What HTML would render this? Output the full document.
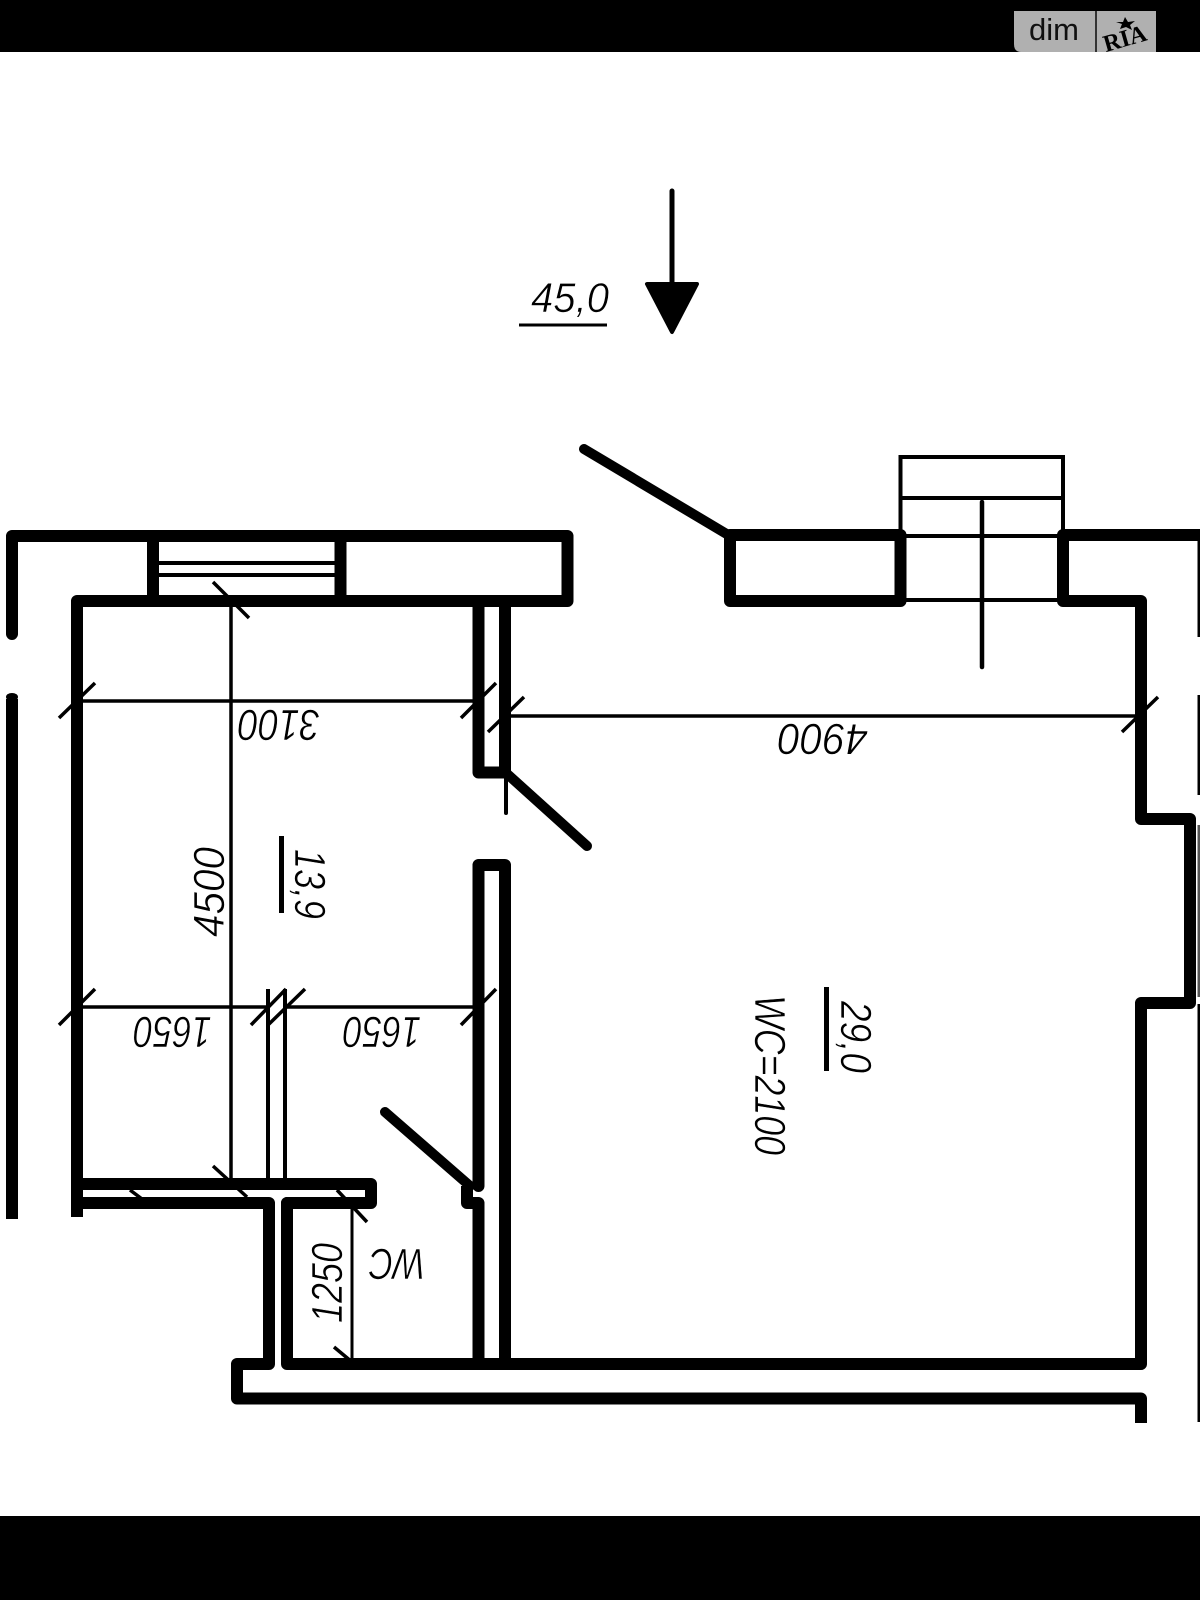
<!DOCTYPE html>
<html><head><meta charset="utf-8"><style>
html,body{margin:0;padding:0;background:#fff}
svg{display:block}
.w{stroke:#000;stroke-width:12;fill:none;stroke-linecap:round;stroke-linejoin:round}
.t{stroke:#000;stroke-width:4;fill:none;stroke-linecap:round}
text.l{font-family:"Liberation Sans",sans-serif;font-style:italic;text-anchor:middle;font-size:44px;fill:#000;stroke:#fff;stroke-width:.6px}
</style></head><body>
<svg width="1200" height="1600" viewBox="0 0 1200 1600" xmlns="http://www.w3.org/2000/svg">
<rect width="1200" height="1600" fill="#fff"/>
<rect width="1200" height="52" fill="#000"/>
<rect y="1516" width="1200" height="84" fill="#000"/>
<path d="M1014 11H1156V52H1021Q1014 52 1014 44Z" fill="#b0b0b0"/>
<rect x="1095" y="11" width="2" height="41" fill="#333"/>
<text x="1029" y="40" font-family="Liberation Sans,sans-serif" font-size="31" fill="#111">dim</text>
<text transform="translate(1127,46) rotate(-16)" text-anchor="middle" font-family="Liberation Serif,serif" font-weight="bold" font-size="24" fill="#000">RIA</text>
<polygon points="1125,17 1128,22 1135,21 1130,25 1132,30 1126,27 1120,29 1122,24 1116,22 1123,22" fill="#000"/>

<!-- elevation marker -->
<line class="t" x1="672" y1="191" x2="672" y2="285" style="stroke-width:5"/>
<path d="M647 284H697L672 332Z" fill="#000" stroke="#000" stroke-width="4" stroke-linejoin="round"/>
<line x1="519" y1="325" x2="607" y2="325" stroke="#000" stroke-width="3"/>
<text class="l" transform="translate(570,312)" textLength="78" lengthAdjust="spacingAndGlyphs" style="font-size:42px">45,0</text>

<!-- outer / upper left walls -->
<path class="w" d="M12 634V536H567.500V601H77V1211"/>
<line class="w" x1="12" y1="699" x2="12" y2="1219" style="stroke-linecap:butt"/>
<rect x="6" y="693" width="12" height="8" rx="6" fill="#000"/>
<path class="w" d="M153 536V601M340.500 536V601" style="stroke-linecap:butt"/>
<line class="t" x1="159" y1="563" x2="335" y2="563" style="stroke-linecap:butt"/>
<line class="t" x1="159" y1="575" x2="335" y2="575" style="stroke-linecap:butt"/>

<!-- partition -->
<path class="w" d="M478.500 601V772.500H505V601"/>
<path class="w" d="M478.500 1186V865H505V1364"/>
<path class="w" d="M467 1186V1203H478.500V1364" style="stroke-linecap:butt"/>
<line x1="505" y1="772" x2="587" y2="846" stroke="#000" stroke-width="10" stroke-linecap="round"/>
<line class="t" x1="506" y1="772" x2="506" y2="813"/>
<line x1="385" y1="1112" x2="470" y2="1186" stroke="#000" stroke-width="10" stroke-linecap="round"/>

<!-- entry door and top right -->
<line x1="584" y1="449" x2="730" y2="536" stroke="#000" stroke-width="10" stroke-linecap="round"/>
<path class="w" d="M730 535H900.500V601H730Z"/>
<path class="w" d="M1200 535H1063V601H1141V819H1190V1003H1141V1364H287V1203"/>
<line class="t" x1="906" y1="536" x2="1057" y2="536"/>
<line class="t" x1="906" y1="600" x2="1057" y2="600"/>
<path class="t" d="M900.500 535V457H1063V535M900.500 498H1063"/>
<line x1="982" y1="502" x2="982" y2="667" stroke="#000" stroke-width="4.500" stroke-linecap="round"/>
<rect x="1197.500" y="535" width="2.500" height="102" fill="#000"/>
<rect x="1197.500" y="695" width="2.500" height="100" fill="#000"/>
<rect x="1197.500" y="825" width="2.500" height="172" fill="#555"/>
<rect x="1197.500" y="1004" width="2.500" height="418" fill="#000"/>

<!-- bath / bottom walls -->
<path class="w" d="M77 1184H371V1203H287"/>
<line class="w" x1="77" y1="1203" x2="269" y2="1203" style="stroke-linecap:butt"/>
<path class="w" d="M269 1203V1364H237V1398.500H1141" />
<line class="w" x1="1141" y1="1398" x2="1141" y2="1423" style="stroke-linecap:butt"/>
<rect x="71" y="1205" width="12" height="12" fill="#000"/>

<!-- thin partition -->
<line class="t" x1="268" y1="989" x2="268" y2="1180" style="stroke-linecap:butt"/>
<line class="t" x1="285" y1="989" x2="285" y2="1180" style="stroke-linecap:butt"/>

<!-- dimensions -->
<g stroke="#000" stroke-width="3.500" fill="none">
<line x1="77" y1="701" x2="478" y2="701"/>
<line x1="505" y1="716" x2="1141" y2="716"/>
<line x1="231" y1="601" x2="231" y2="1180"/>
<line x1="77" y1="1007" x2="268" y2="1007"/>
<line x1="285" y1="1007" x2="478" y2="1007"/>
<line x1="352" y1="1205" x2="352" y2="1364" stroke-width="3"/>
<path d="M59 718L95 683M461 718L496 683M488 732L524 697M1122 732L1158 697M59 1025L95 989M251 1025L286 989M268 1025L305 989M461 1025L496 989M213 582L249 618M213 1166L247 1197M337 1190L367 1222M334 1347L352 1362M130 1190L142 1199"/>
</g>

<!-- labels -->
<text class="l" transform="translate(279,726) rotate(180) translate(0,16)" textLength="82" lengthAdjust="spacingAndGlyphs">3100</text>
<text class="l" transform="translate(823,740) rotate(180) translate(0,16)" textLength="90" lengthAdjust="spacingAndGlyphs">4900</text>
<text class="l" transform="translate(208,892) rotate(-90) translate(0,16)" textLength="90" lengthAdjust="spacingAndGlyphs">4500</text>
<text class="l" transform="translate(310,884) rotate(90) translate(0,15)" textLength="70" lengthAdjust="spacingAndGlyphs">13,9</text>
<line x1="281.500" y1="836" x2="281.500" y2="913" stroke="#000" stroke-width="5"/>
<text class="l" transform="translate(857,1037) rotate(90) translate(0,16)" textLength="72" lengthAdjust="spacingAndGlyphs">29,0</text>
<line x1="826.500" y1="987" x2="826.500" y2="1071" stroke="#000" stroke-width="5"/>
<text class="l" transform="translate(771,1075) rotate(90) translate(0,16)" textLength="160" lengthAdjust="spacingAndGlyphs">WC=2100</text>
<text class="l" transform="translate(172.500,1032) rotate(180) translate(0,15)" textLength="78" lengthAdjust="spacingAndGlyphs">1650</text>
<text class="l" transform="translate(382,1032) rotate(180) translate(0,15)" textLength="78" lengthAdjust="spacingAndGlyphs">1650</text>
<text class="l" transform="translate(327,1283) rotate(-90) translate(0,15)" textLength="80" lengthAdjust="spacingAndGlyphs">1250</text>
<text class="l" transform="translate(397,1265) rotate(180) translate(0,16)" textLength="56" lengthAdjust="spacingAndGlyphs">WC</text>
</svg>
</body></html>
